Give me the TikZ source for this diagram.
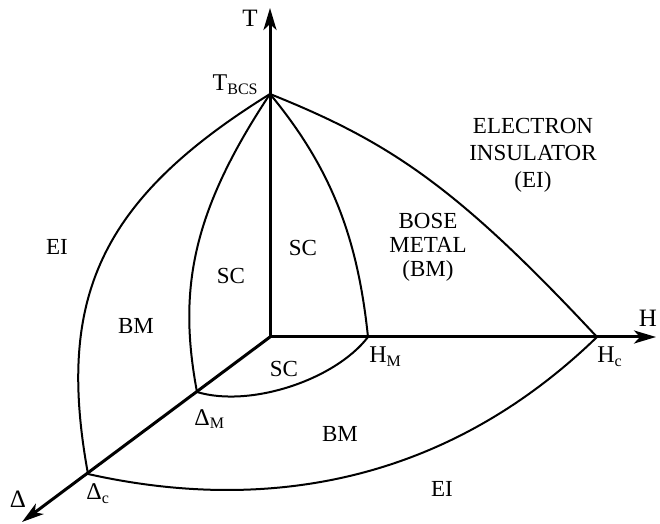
\documentclass[tikz,border=0pt]{standalone}
\usepackage{fontspec}
\setmainfont{LiberationSerif}[Extension=.ttf, UprightFont=*-Regular, BoldFont=*-Bold]
\usetikzlibrary{arrows.meta,positioning}
\tikzset{
  axis/.style  ={line width=1.5pt, {Stealth[length=11pt,width=6.5pt,inset=3pt]}-{Stealth[length=11pt,width=6.5pt,inset=3pt]}},
  daxis/.style ={line width=1.5pt, -{Stealth[length=11pt,width=6.5pt,inset=3pt]}},
  bound/.style ={line width=1pt},
  region/.style={font=\rmfamily\fontsize{11.5}{12}\selectfont, inner sep=0pt, align=center},
  axlbl/.style ={font=\rmfamily\fontsize{12.5}{14}\selectfont, inner sep=0pt, anchor=base},
  ptlbl/.style ={font=\rmfamily\fontsize{12}{14}\selectfont, inner sep=0pt, anchor=base west},
}

\begin{document}
\begin{tikzpicture}[x=0.5pt, y=-0.5pt]
  \path[use as bounding box] (0,0) rectangle (660,524);
  % points of the diagram
  \coordinate (o)    at (270,337);
  \coordinate (ttip) at (270,8);
  \coordinate (htip) at (656,337);
  \coordinate (dtip) at (22,522);
  \coordinate (tbcs) at (270,94);
  \coordinate (hm)   at (368,337);
  \coordinate (hc)   at (597,337);
  \coordinate (dm)   at (197,392);
  \coordinate (dc)   at (88,474);
  % axes
  \draw[axis]  (ttip) -- (o) -- (htip);
  \draw[daxis] (o) -- (dtip);
  % phase boundaries
  \draw[bound] (tbcs) .. controls (99,200) and (56,299) .. (dc);
  \draw[bound] (tbcs) .. controls (191,213) and (178,291) .. (dm);
  \draw[bound] (tbcs) .. controls (333,170) and (358,241) .. (hm);
  \draw[bound] (tbcs) .. controls (390,142) and (457,187) .. (hc);
  \draw[bound] (dm) .. controls (250,408) and (335,380) .. (hm);
  \draw[bound] (dc) .. controls (253,511) and (438,491) .. (hc);
  % axis and point labels
  \node[axlbl] (tlbl) at (250,27) {T};
  \node[axlbl] (hlbl) at (648,327) {H};
  \node[axlbl] (dlbl) at (18,508) {Δ};
  \node[ptlbl, anchor=base east] (tbcslbl) at (259,91) {T\textsubscript{BCS}};
  \node[ptlbl] (hmlbl) at (369,363) {H\textsubscript{M}};
  \node[ptlbl] (hclbl) at (597,363) {H\textsubscript{c}};
  \node[ptlbl] (dmlbl) at (194,425) {Δ\textsubscript{M}};
  \node[ptlbl] (dclbl) at (86,500) {Δ\textsubscript{c}};
  % regions
  \node[region, anchor=base] (eil)  at (57,255)  {EI};
  \node[region, anchor=base] (bml)  at (136,334) {BM};
  \node[region, anchor=base] (scl)  at (231,284) {SC};
  \node[region, anchor=base] (sct)  at (303,256) {SC};
  \node[region, anchor=base] (scb)  at (284,377) {SC};
  \node[region, anchor=base] (bmb)  at (340,442) {BM};
  \node[region, anchor=base] (eib)  at (442,496) {EI};
  \node[region, font=\rmfamily\fontsize{11.5}{12}\selectfont] (bose) at (428,247) {BOSE\\METAL\\(BM)};
  \node[region, font=\rmfamily\fontsize{11.5}{13.5}\selectfont] (elec) at (533,155) {ELECTRON\\INSULATOR\\(EI)};
\end{tikzpicture}
\end{document}
